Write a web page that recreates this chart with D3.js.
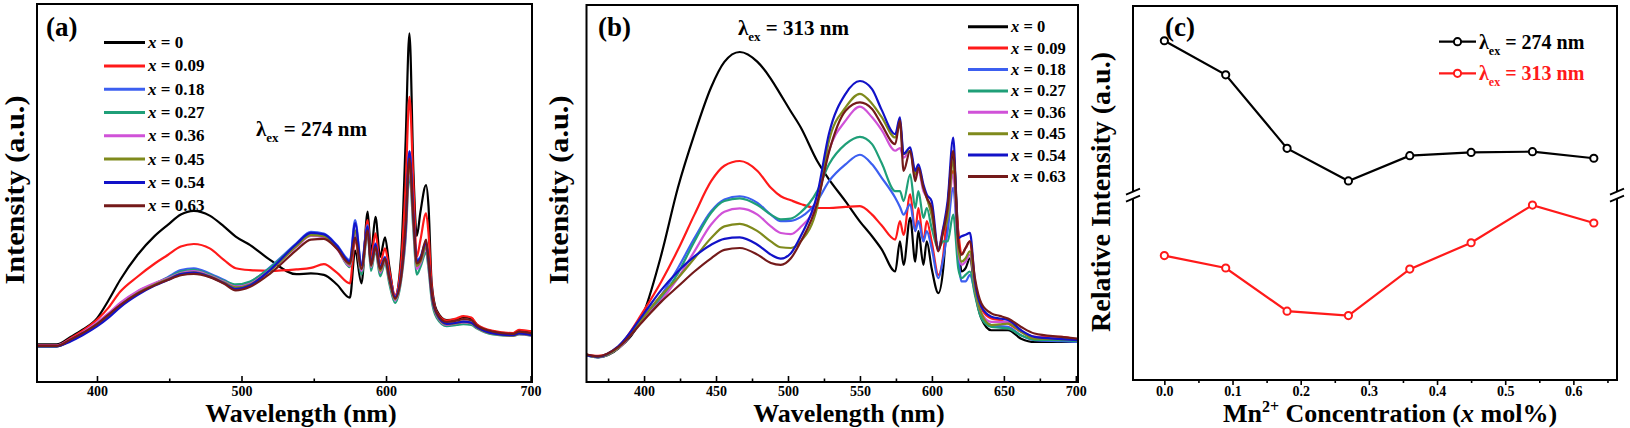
<!DOCTYPE html>
<html><head><meta charset="utf-8">
<script src="https://cdn.jsdelivr.net/npm/d3@7"></script>
<style>
body{margin:0;background:#fff}
svg{display:block}
text{font-family:"Liberation Serif","Times New Roman",serif;font-weight:bold;fill:#000}
</style></head><body>
<svg id="chart" width="1630" height="428"></svg>
<script>
// ---------- DATA ----------
const seriesLabels = ["0","0.09","0.18","0.27","0.36","0.45","0.54","0.63"];
const seriesColors = ["#000000","#ff1a1a","#3c5ff0","#1f9f78","#d052d8","#7f8a1c","#1212c8","#741a1a"];

// Panel (a): emission spectra, lambda_ex = 274 nm
const wlA = [358,372,382,390,400,408,416,428,440,449,458,467,478,488,496,506,520,538,548,557,566,575,578.6,583,587.3,589.6,592.7,595.9,599.3,602.3,606.2,610.5,613.5,616.2,619,621.3,623.8,627.7,629.4,631.6,635,642,649,653.5,659,663,674,688,692,701];
const specA_0    = [7.5,7.5,9.6,11.5,14.6,19.5,25,31.8,37,40,42.8,43.8,42.5,39.5,36.8,34.5,30.4,26.6,26.8,26.4,23.8,20.2,33,24.1,43.6,32.3,42.2,31.3,36.6,28.6,20.5,32,62,92,54,37,43.5,50.8,45,24.1,16.8,14.1,14.3,14.9,14.6,12.8,11.0,10.5,11.2,11.0];
const specA_009  = [7.2,7.2,9.3,11.2,14.2,17.5,21.8,25.9,29.5,31.8,34.1,34.8,33.6,30.4,28.2,27.7,27.5,27.9,28.3,29.3,27.0,24.1,35.9,26.8,41.3,31.3,37.7,29.5,33.6,27.7,20.9,30,50,74.8,50.4,31.3,35.9,43.1,37.7,23.2,16.4,14.0,14.6,15.2,14.8,12.9,11.2,10.6,11.5,11.0];
const specA_018  = [7.0,7.0,8.8,10.5,13.2,15.5,18.2,21.8,24.0,25.8,27.7,28.2,26.8,25.0,23.6,24.5,28.6,35.0,38.1,37.6,34.5,30.4,41.3,29.5,39.9,29.5,35.0,28.6,31.3,25.9,20.5,26.8,38.0,60.0,42.2,30.4,31.3,35.4,30.4,21.4,16.0,13.2,13.5,13.7,13.5,12.3,10.5,10.0,10.5,10.0];
const specA_027  = [7.0,7.0,8.6,10.3,13.0,15.3,18.0,21.5,24.0,25.6,27.3,27.8,26.5,24.8,23.8,24.6,28.4,34.6,37.4,37.0,33.8,28.5,37.0,26.5,37.5,27.5,33.0,26.0,29.5,24.0,18.8,25.0,36.0,54.0,38.0,26.5,28.5,32.5,28.0,19.5,14.8,12.5,12.8,13.0,12.8,11.8,10.2,9.8,10.2,9.8];
const specA_036  = [7.2,7.2,9.0,10.8,13.5,16.0,18.8,22.0,24.2,25.5,26.9,27.4,26.2,24.5,23.2,24.0,27.8,34.0,37.0,36.6,33.5,28.8,37.5,27.5,38.0,28.5,33.5,27.0,30.0,25.0,19.5,25.5,37.0,56.0,39.5,28.0,29.5,33.5,29.0,20.5,15.4,12.8,13.2,13.5,13.2,12.0,10.4,9.9,10.3,9.9];
const specA_045  = [7.0,7.0,8.7,10.4,13.1,15.4,18.1,21.4,23.8,25.2,26.7,27.1,26.0,24.3,23.0,23.8,27.6,34.2,37.2,36.9,33.8,29.2,38.5,28.0,38.5,28.8,34.0,27.5,30.5,25.3,19.8,26.0,38.0,57.0,40.5,28.8,30.0,34.0,29.5,20.8,15.6,13.0,13.3,13.6,13.3,12.1,10.4,9.9,10.4,10.0];
const specA_054  = [7.0,7.0,8.4,10.0,12.4,14.8,17.6,20.9,23.5,25.0,26.6,27.0,25.9,24.1,22.6,23.6,27.8,34.8,37.8,37.4,34.3,30.0,40.5,29.0,39.5,29.3,34.8,28.3,31.0,25.8,20.3,26.5,38.5,60.0,42.0,30.0,31.0,35.0,30.2,21.2,15.9,13.1,13.4,13.7,13.4,12.2,10.5,10.0,10.5,10.0];
const specA_063  = [7.1,7.1,8.9,10.6,13.0,15.6,18.2,21.3,23.6,25.0,26.3,26.7,25.8,24.0,22.2,23.2,26.8,33.1,36.0,36.2,33.5,29.5,36.5,28.0,38.5,29.0,34.0,28.0,30.8,25.5,20.0,26.0,40.0,58.0,41.5,29.5,30.5,36.0,30.5,21.8,16.2,13.6,14.0,14.4,14.1,12.6,11.0,10.4,11.0,10.5];

// Panel (b): emission spectra, lambda_ex = 313 nm
const wlB = [360,368,382,400,412,423.5,435,446.6,455.8,466.5,478.8,488.1,495,502,508.8,520.3,528.5,540,550,558.4,565,574.5,577.8,580.3,584.9,588.4,590.6,594.1,596.4,599.8,604.5,607.9,610.9,614.8,618.3,620.6,623.4,626.4,629.9,634.4,641.3,647,652.9,662,671.3,690,701];
const specB_0    = [4.8,4.1,6.4,16.4,32,50.2,64.8,77.6,84.5,87.2,84.5,79.9,75.5,71,66.7,57.5,52.5,46.5,41,37,33.5,27.4,35.6,29.2,42,30.1,38.4,29.2,35.6,28.3,21.5,28.3,44.7,59.4,37.4,27.4,28.3,31,21.9,14.6,11.4,11.4,11.4,9.1,8.2,8.2,8.2];
const specB_009  = [4.8,4.4,6.8,16.9,24.7,33.3,42.9,52,56.2,57.5,54.8,50.2,47.9,46.8,45.8,44.7,44.7,45,45.2,42.9,40,36.1,41.1,37.4,48.4,38.4,44.7,35.6,41.1,35.6,26.5,32,44.7,54.8,38.4,32,33.8,35.6,23.7,17.3,14.6,14.2,13.2,11,9.6,9.6,8.7];
const specB_018  = [4.6,4.0,6.6,15.1,21,28.3,36.5,43.8,47,47.9,46.1,42.9,41.1,41.2,42.2,46.6,52,56.6,59.2,56.6,53,47.5,45,42.9,45.7,38.4,41.1,35.6,38.4,33.8,25.6,31,38.4,50.2,32,24.7,24.7,26.5,21.9,15.5,12.8,12.5,12.3,10,8.7,8.4,8.2];
const specB_027  = [4.6,4.0,6.5,14.6,20.1,26.9,35.6,43.4,46.6,47.3,45.5,42.9,41.6,41.8,43.5,49.3,56.6,62.1,64.1,62.1,57,49.3,49.3,46.6,53.9,44.7,49.3,42,44.7,39.3,33.8,35.6,35.6,42.9,28.3,25.6,26.5,27.4,21,14.6,12.3,12.1,11.9,10,8.8,8.7,8.4];
const specB_036  = [4.6,4.1,6.5,14.6,19.6,25.6,32.9,40.2,43.7,44.6,42.9,39.7,37.9,37.6,39.5,46.6,60.3,68.5,72.3,69.4,66,60.3,61,58.4,60.3,53,54.8,49.3,47.5,42.9,33.8,39.3,42.9,53.9,32.9,29.2,30.1,32,22.8,16,13.7,13.7,13.7,11,9.6,9.1,8.7];
const specB_045  = [4.6,4.1,6.6,15.1,21,25.6,31,36.5,39.7,40.4,38.4,35.6,34,33.8,35.6,45,63,72.1,75.8,73.1,69.5,63.9,67.6,59.4,60.3,53.9,55.7,50.2,47.5,42.9,33.8,38.4,42,57.5,33.8,30.1,31,32.9,22.8,16,12.8,13,13.2,11,9.1,9,8.7];
const specB_054  = [4.6,4.2,7.0,16,22.4,27.4,31.5,34.7,36.3,36.7,34.7,32,30.9,32.4,37,48.4,65,75.8,79.3,77.1,71.5,64.8,69.4,59.4,61.2,54.8,56.6,51.1,48.4,46.6,33.3,39.3,46.6,63.9,36.5,37,37.4,37.9,24.7,17.8,15.1,14.6,14.2,11.4,9.6,9,8.7];
const specB_063  = [4.8,4.3,6.8,14.2,19.2,23.3,27.4,31,33.3,33.8,32,29.7,29.2,31,35.5,46,60,71.2,73.5,71.7,67.5,62.1,68.5,54.8,60.3,52,55.7,50.2,47.5,44.7,32.9,38.4,44.7,60.3,35.6,32,33.8,35.6,25.6,18.7,16,15.3,14.6,12.3,10.5,9.6,9.1];

// Panel (c): relative intensity vs Mn2+ concentration
const concC   = [0,0.09,0.18,0.27,0.36,0.45,0.54,0.63];
const relI274 = [90.5,81.2,61.1,52.2,59.1,60.0,60.2,58.4];
const relI313 = [31.8,28.4,16.6,15.4,28.1,35.3,45.6,40.7];
const breakValueC = 48.3;

const ticksAMajor = [400,500,600,700], ticksAMinor = [450,550,650];
const ticksBMajor = [400,450,500,550,600,650,700], ticksBMinor = [375,425,475,525,575,625,675];
const ticksCMajor = [0,0.1,0.2,0.3,0.4,0.5,0.6], ticksCMinor = [0.05,0.15,0.25,0.35,0.45,0.55,0.65];

const specA = [specA_0,specA_009,specA_018,specA_027,specA_036,specA_045,specA_054,specA_063];
const specB = [specB_0,specB_009,specB_018,specB_027,specB_036,specB_045,specB_054,specB_063];

// ---------- DRAW ----------
const svg = d3.select("#chart");
const TICK_BASE = 395.5, XLAB_BASE = 422, XLAB_SIZE = 26;

function frame(x, y) {
  const [x0,x1] = x.range(), [y1,y0] = y.range();
  return {x0,x1,y0,y1};
}

function bottomAxis(g, x, yPos, major, minor, inward, fmt, labelBaseline) {
  const ax = d3.axisBottom(x).tickValues(major).tickFormat(fmt)
    .tickSize(inward ? -6 : 5);
  const gg = g.append("g").attr("transform", `translate(0,${yPos})`).call(ax);
  gg.select(".domain").remove();
  gg.selectAll("line").attr("stroke","#000").attr("stroke-width",1.6);
  gg.selectAll("text").attr("fill","#000").attr("y", labelBaseline - yPos).attr("dy", null)
    .style("font-size","14px")
    .style("font-family",'"Liberation Serif","Times New Roman",serif').style("font-weight","bold");
  const mx = d3.axisBottom(x).tickValues(minor).tickSize(inward ? -3.5 : 3);
  const mg = g.append("g").attr("transform", `translate(0,${yPos})`).call(mx);
  mg.select(".domain").remove();
  mg.selectAll("text").remove();
  mg.selectAll("line").attr("stroke","#000").attr("stroke-width",1.6);
}

function spectraPanel(id, wl, specs, xDom, xRange, yDom, yRange, opts) {
  const x = d3.scaleLinear().domain(xDom).range(xRange);
  const y = d3.scaleLinear().domain(yDom).range(yRange);
  const f = frame(x,y);
  const g = svg.append("g");
  g.append("clipPath").attr("id","clip"+id).append("rect")
    .attr("x",f.x0).attr("y",f.y0).attr("width",f.x1-f.x0).attr("height",f.y1-f.y0);
  const line = d3.line().x(d=>x(d[0])).y(d=>y(d[1])).curve(d3.curveMonotoneX);
  const lg = g.append("g").attr("clip-path",`url(#clip${id})`);
  specs.forEach((s,i)=>{
    lg.append("path").attr("d", line(wl.map((w,k)=>[w,s[k]])))
      .attr("fill","none").attr("stroke",seriesColors[i]).attr("stroke-width",2.2)
      .attr("stroke-linejoin","round");
  });
  g.append("rect").attr("x",f.x0).attr("y",f.y0).attr("width",f.x1-f.x0).attr("height",f.y1-f.y0)
    .attr("fill","none").attr("stroke","#000").attr("stroke-width",2);
  bottomAxis(g, x, f.y1, opts.major, opts.minor, true, d3.format("d"), TICK_BASE);
  // legend
  seriesLabels.forEach((lab,i)=>{
    const ry = opts.legY + i*opts.legStep;
    g.append("line").attr("x1",opts.legX0).attr("x2",opts.legX1).attr("y1",ry).attr("y2",ry)
      .attr("stroke",seriesColors[i]).attr("stroke-width",3);
    const t = g.append("text").attr("x",opts.legX1+3).attr("y",ry+5.5).style("font-size",opts.legFont+"px");
    t.append("tspan").style("font-style","italic").text("x");
    t.append("tspan").text(" = "+lab);
  });
  // excitation label
  const t = g.append("text").attr("x",opts.lamX).attr("y",opts.lamY).style("font-size","21px");
  t.append("tspan").text("λ");
  t.append("tspan").attr("dy",6).style("font-size","13px").text("ex");
  t.append("tspan").attr("dy",-6).text(" = "+opts.lamText);
  // panel tag
  g.append("text").attr("x",opts.tagX).attr("y",36).style("font-size","27px").text(opts.tag);
  // axis titles
  g.append("text").attr("transform",`translate(${opts.ylabX},190) rotate(-90) scale(1.08,1)`).attr("text-anchor","middle")
    .style("font-size","28px").text("Intensity (a.u.)");
  g.append("text").attr("x",opts.xlabX).attr("y",XLAB_BASE).attr("text-anchor","middle")
    .style("font-size",XLAB_SIZE+"px").text("Wavelength (nm)");
}

spectraPanel("A", wlA, specA, [358.5,701], [37,532], [-2.7,100], [382,4], {
  major:ticksAMajor, minor:ticksAMinor, legY:42.6, legStep:23.3, legX0:104, legX1:145, legFont:17,
  lamX:256, lamY:136, lamText:"274 nm", tag:"(a)", tagX:46, ylabX:24, xlabX:301
});
spectraPanel("B", wlB, specB, [360,701.5], [586.5,1078], [-2.7,100], [382,5], {
  major:ticksBMajor, minor:ticksBMinor, legY:26.7, legStep:21.4, legX0:968, legX1:1008, legFont:16.5,
  lamX:738, lamY:35, lamText:"313 nm", tag:"(b)", tagX:598, ylabX:568, xlabX:849
});

// Panel (c)
(function(){
  const x = d3.scaleLinear().domain([-0.046,0.664]).range([1133,1617]);
  const y = d3.scaleLinear().domain([-2.2,100]).range([380,6]);
  const g = svg.append("g");
  const f = frame(x,y);
  g.append("rect").attr("x",f.x0).attr("y",f.y0).attr("width",f.x1-f.x0).attr("height",f.y1-f.y0)
    .attr("fill","none").attr("stroke","#000").attr("stroke-width",2);
  bottomAxis(g, x, f.y1, ticksCMajor, ticksCMinor, false, d3.format(".1f"), TICK_BASE);
  // axis breaks
  const by = y(breakValueC);
  [f.x0, f.x1].forEach(bx=>{
    g.append("rect").attr("x",bx-3).attr("y",by-3.5).attr("width",6).attr("height",7).attr("fill","#fff");
    [-3.5,3.5].forEach(d=>{
      g.append("line").attr("x1",bx-7).attr("y1",by+d+3).attr("x2",bx+7).attr("y2",by+d-3)
        .attr("stroke","#000").attr("stroke-width",1.8);
    });
  });
  const line = d3.line().x(d=>x(d[0])).y(d=>y(d[1]));
  const sets = [[relI274,"#000000"],[relI313,"#ff1a1a"]];
  sets.forEach(([vals,col])=>{
    const pts = concC.map((c,i)=>[c,vals[i]]);
    g.append("path").attr("d",line(pts)).attr("fill","none").attr("stroke",col).attr("stroke-width",2.2);
    g.selectAll(null).data(pts).enter().append("circle")
      .attr("cx",d=>x(d[0])).attr("cy",d=>y(d[1])).attr("r",3.6)
      .attr("fill","#fff").attr("stroke",col).attr("stroke-width",2);
  });
  // legend
  [["274 nm","#000000",41.7],["313 nm","#ff1a1a",73.3]].forEach(([txt,col,ry])=>{
    g.append("line").attr("x1",1439).attr("x2",1476).attr("y1",ry).attr("y2",ry).attr("stroke",col).attr("stroke-width",2.2);
    g.append("circle").attr("cx",1457.5).attr("cy",ry).attr("r",3.6).attr("fill","#fff").attr("stroke",col).attr("stroke-width",2);
    const t = g.append("text").attr("x",1479).attr("y",ry+7).style("font-size","20px").style("fill",col);
    t.append("tspan").text("λ");
    t.append("tspan").attr("dy",6).style("font-size","12px").text("ex");
    t.append("tspan").attr("dy",-6).text(" = "+txt);
  });
  g.append("text").attr("x",1165).attr("y",36).style("font-size","27px").text("(c)");
  g.append("text").attr("transform","translate(1110,192) rotate(-90)").attr("text-anchor","middle")
    .style("font-size","28px").text("Relative Intensity (a.u.)");
  const xt = g.append("text").attr("x",1390).attr("y",XLAB_BASE).attr("text-anchor","middle").style("font-size",XLAB_SIZE+"px");
  xt.append("tspan").text("Mn");
  xt.append("tspan").attr("dy",-10).style("font-size","16px").text("2+");
  xt.append("tspan").attr("dy",10).text(" Concentration (");
  xt.append("tspan").style("font-style","italic").text("x");
  xt.append("tspan").text(" mol%)");
})();
</script>
</body></html>
